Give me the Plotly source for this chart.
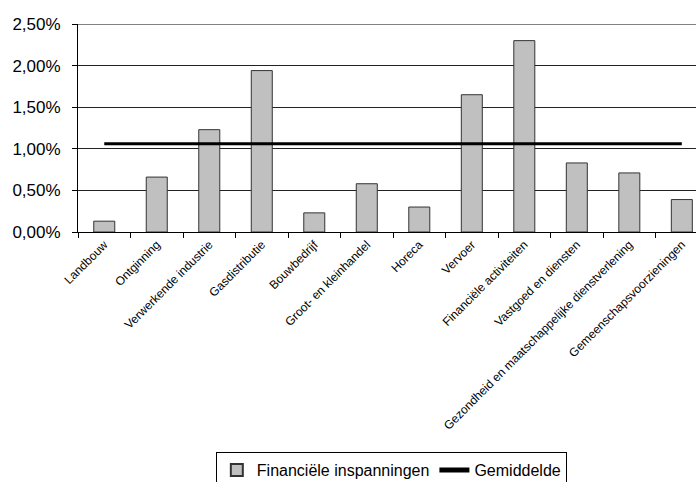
import plotly.graph_objects as go

# Sector categories and their values (fractions, shown as percentages)
sectors = [
    "Landbouw",
    "Ontginning",
    "Verwerkende industrie",
    "Gasdistributie",
    "Bouwbedrijf",
    "Groot- en kleinhandel",
    "Horeca",
    "Vervoer",
    "Financiële activiteiten",
    "Vastgoed en diensten",
    "Gezondheid en maatschappelijke dienstverlening",
    "Gemeenschapsvoorzieningen",
]
inspanningen = [0.0013, 0.0066, 0.0123, 0.0194, 0.0023, 0.0058,
                0.0030, 0.0165, 0.0230, 0.0083, 0.0071, 0.0039]
gemiddelde = 0.0106
y_ticks = [0, 0.005, 0.010, 0.015, 0.020, 0.025]

FONT = "Liberation Sans, Arial, sans-serif"

fig = go.Figure()
fig.add_trace(go.Bar(
    x=sectors,
    y=inspanningen,
    name="Financiële inspanningen",
    width=0.4,
    marker=dict(color="#c0c0c0", line=dict(color="#333333", width=1)),
))
fig.add_trace(go.Scatter(
    x=sectors,
    y=[gemiddelde] * len(sectors),
    name="Gemiddelde",
    mode="lines",
    line=dict(color="black", width=3),
))

# grey top border of the plot area
fig.add_shape(type="line", xref="paper", yref="y", x0=0, x1=1,
              y0=y_ticks[-1], y1=y_ticks[-1],
              line=dict(color="#808080", width=2))

fig.update_layout(
    width=696,
    height=482,
    margin=dict(l=78, r=0, t=24, b=250, autoexpand=False),
    paper_bgcolor="white",
    plot_bgcolor="white",
    separators=", ",
    font=dict(family=FONT, color="black"),
    showlegend=True,
    legend=dict(
        orientation="h",
        x=0.507, xanchor="center",
        yref="container",
        y=0.062, yanchor="top",
        bordercolor="black", borderwidth=1,
        font=dict(size=16, family=FONT),
        itemsizing="constant",
    ),
    bargap=0.6,
)
fig.update_xaxes(
    type="category",
    range=[-0.5, 11.27],
    showline=True, linecolor="black", linewidth=1,
    ticks="outside", tickson="boundaries", ticklen=5, tickcolor="black",
    tickangle=-45,
    tickfont=dict(size=12, family=FONT),
    showgrid=False,
    automargin=False,
)
fig.update_yaxes(
    range=[0, 0.025],
    tickvals=y_ticks,
    tickformat=".2%",
    showline=True, linecolor="black", linewidth=1,
    ticks="outside", ticklen=5, tickcolor="black",
    ticklabelstandoff=8,
    tickfont=dict(size=17, family=FONT),
    showgrid=True, gridcolor="#222222", gridwidth=1,
    zeroline=False,
    automargin=False,
)

fig.write_html("out.html")
